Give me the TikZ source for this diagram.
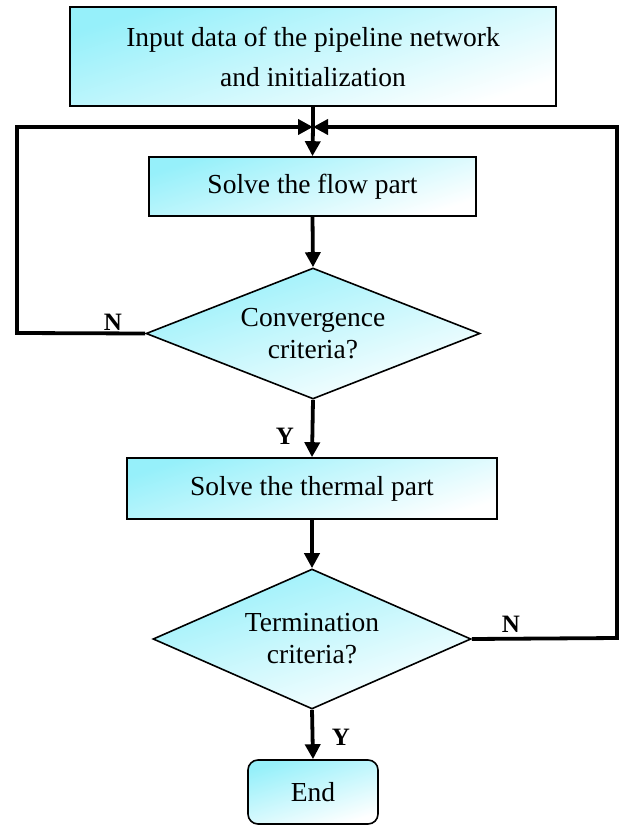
\documentclass[tikz,border=0pt]{standalone}
\usepackage{fontspec}
\setmainfont{Liberation Serif}
\usetikzlibrary{shapes.geometric,arrows.meta}
\definecolor{lcyan}{RGB}{150,240,250}
\begin{document}
\begin{tikzpicture}[x=1pt,y=-1pt,
  fillgrad/.style={shading=axis,top color=lcyan,bottom color=white,shading angle=18},
  procbox/.style={draw,line width=1.6pt,fillgrad,inner sep=0pt,align=center,font=\fontsize{27.5}{40}\selectfont},
  decision/.style={draw,line width=1.6pt,fillgrad,diamond,inner sep=0pt,align=center,font=\fontsize{27.5}{32}\selectfont},
  flow/.style={line width=3.8pt,-{Triangle[length=15pt,width=15pt]}},
  plain/.style={line width=3.8pt},
  lab/.style={font=\fontsize{25}{25}\selectfont\bfseries}
]
\useasboundingbox (0,0) rectangle (625,826);
\node[procbox,minimum width=486pt,minimum height=99pt] (in) at (313,56.5) {Input data of the pipeline network\\and initialization};
\node[procbox,minimum width=327pt,minimum height=59pt] (fl) at (312.5,186.5) {Solve the flow part};
\node[decision,minimum width=334pt,minimum height=131pt,shape aspect=2.55] (c1) at (313,333.5) {Convergence\\criteria?};
\node[procbox,minimum width=370pt,minimum height=61pt] (th) at (312,488.5) {Solve the thermal part};
\node[decision,minimum width=318pt,minimum height=140pt,shape aspect=2.27] (c2) at (312,639) {Termination\\criteria?};
\node[procbox,rounded corners=10pt,minimum width=130pt,minimum height=64pt] (en) at (313,792) {End};
\coordinate (m) at (313,127);
\coordinate (l1) at (17,333);
\coordinate (l2) at (17,127);
\coordinate (r1) at (617,638);
\coordinate (r2) at (617,127);
\draw[plain] (in.south) -- (m);
\draw[flow] (m) -- (fl.north);
\draw[flow] (fl.south) -- (c1.north);
\draw[flow] (c1.south) -- (th.north);
\draw[flow] (th.south) -- (c2.north);
\draw[flow] (c2.south) -- (en.north);
\draw[flow] (c1.west) -- (l1) -- (l2) -- (m);
\draw[flow] (c2.east) -- (r1) -- (r2) -- (m);
\node[lab] (n1) at (113,322) {N};
\node[lab] (y1) at (285,436) {Y};
\node[lab] (n2) at (511,624) {N};
\node[lab] (y2) at (341,737) {Y};
\end{tikzpicture}
\end{document}
